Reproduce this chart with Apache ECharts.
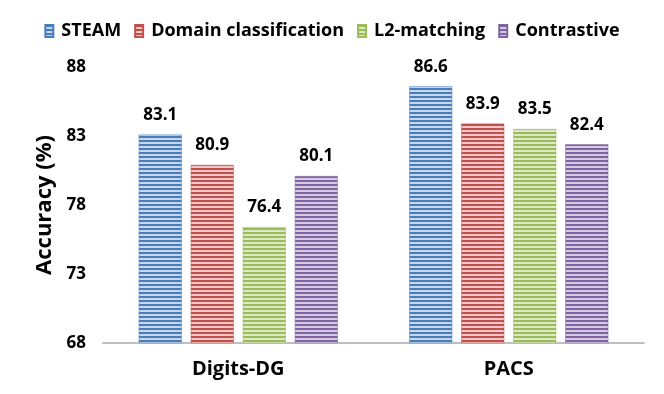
<!DOCTYPE html>
<html>
<head>
<meta charset="utf-8">
<script src="https://cdn.jsdelivr.net/npm/echarts@6/dist/echarts.min.js"></script>
<style>
html, body { margin: 0; padding: 0; background: #fff; }
#main { width: 664px; height: 394px; }
</style>
</head>
<body>
<div id="main"></div>
<script>
var categories = ['Digits-DG', 'PACS'];
var seriesNames = ['STEAM', 'Domain classification', 'L2-matching', 'Contrastive'];
var steam = [83.1, 86.6];
var domainCls = [80.9, 83.9];
var l2Matching = [76.4, 83.5];
var contrastive = [80.1, 82.4];
var yTicks = [68, 73, 78, 83, 88];

var FONT = '"Open Sans", "DejaVu Sans", sans-serif';

// striped fill like excel's horizontal pattern
function stripes(dark, light) {
	var c = document.createElement('canvas');
	c.width = 4;
	c.height = 4;
	var ctx = c.getContext('2d');
	ctx.fillStyle = light;
	ctx.fillRect(0, 0, 4, 4);
	ctx.fillStyle = dark;
	ctx.fillRect(0, 0, 4, 2);
	return { image: c, repeat: 'repeat' };
}

var palette = [
	{ dark: '#4a7ebb', light: '#c6d6ec' },
	{ dark: '#c0504d', light: '#efc8c7' },
	{ dark: '#9bbb59', light: '#dde9c6' },
	{ dark: '#8064a2', light: '#d5cbe2' }
];

var allData = [steam, domainCls, l2Matching, contrastive];

var series = [];
for (var i = 0; i < seriesNames.length; i++) {
	series.push({
		name: seriesNames[i],
		type: 'bar',
		data: allData[i],
		barWidth: 43,
		barGap: '21%',
		itemStyle: {
			color: stripes(palette[i].dark, palette[i].light),
			borderColor: palette[i].dark,
			borderWidth: 0.5
		},
		label: {
			show: true,
			position: 'top',
			distance: 11,
			fontFamily: FONT,
			fontWeight: 'bold',
			fontSize: 17,
			color: '#000',
			formatter: function(p) { return p.value.toFixed(1); }
		}
	});
}

var myChart = echarts.init(document.getElementById('main'));
myChart.setOption({
	animation: false,
	color: palette.map(function(p) { return p.dark; }),
	legend: {
		top: 17,
		left: 'center',
		icon: 'rect',
		itemWidth: 8,
		itemHeight: 12,
		itemGap: 13,
		data: seriesNames.map(function(n, i) {
			return { name: n, itemStyle: { color: stripes(palette[i].dark, palette[i].light) } };
		}),
		textStyle: { fontFamily: FONT, fontWeight: 'bold', fontSize: 18, color: '#000', padding: [0, 0, 0, 3] }
	},
	grid: { left: 103, right: 20, top: 67, bottom: 51 },
	xAxis: {
		type: 'category',
		data: categories,
		axisLine: { lineStyle: { color: '#bfbfbf', width: 2 } },
		axisTick: { show: false },
		axisLabel: { fontFamily: FONT, fontWeight: 'bold', fontSize: 20, color: '#000', margin: 16 }
	},
	yAxis: {
		type: 'value',
		min: yTicks[0],
		max: yTicks[yTicks.length - 1],
		interval: 5,
		name: 'Accuracy (%)',
		nameLocation: 'middle',
		nameGap: 46,
		nameTextStyle: { fontFamily: FONT, fontWeight: 'bold', fontSize: 22, color: '#000' },
		axisLine: { show: false },
		axisTick: { show: false },
		splitLine: { show: false },
		axisLabel: { fontFamily: FONT, fontWeight: 'bold', fontSize: 17, color: '#000', margin: 17 }
	},
	series: series
});
</script>
</body>
</html>
